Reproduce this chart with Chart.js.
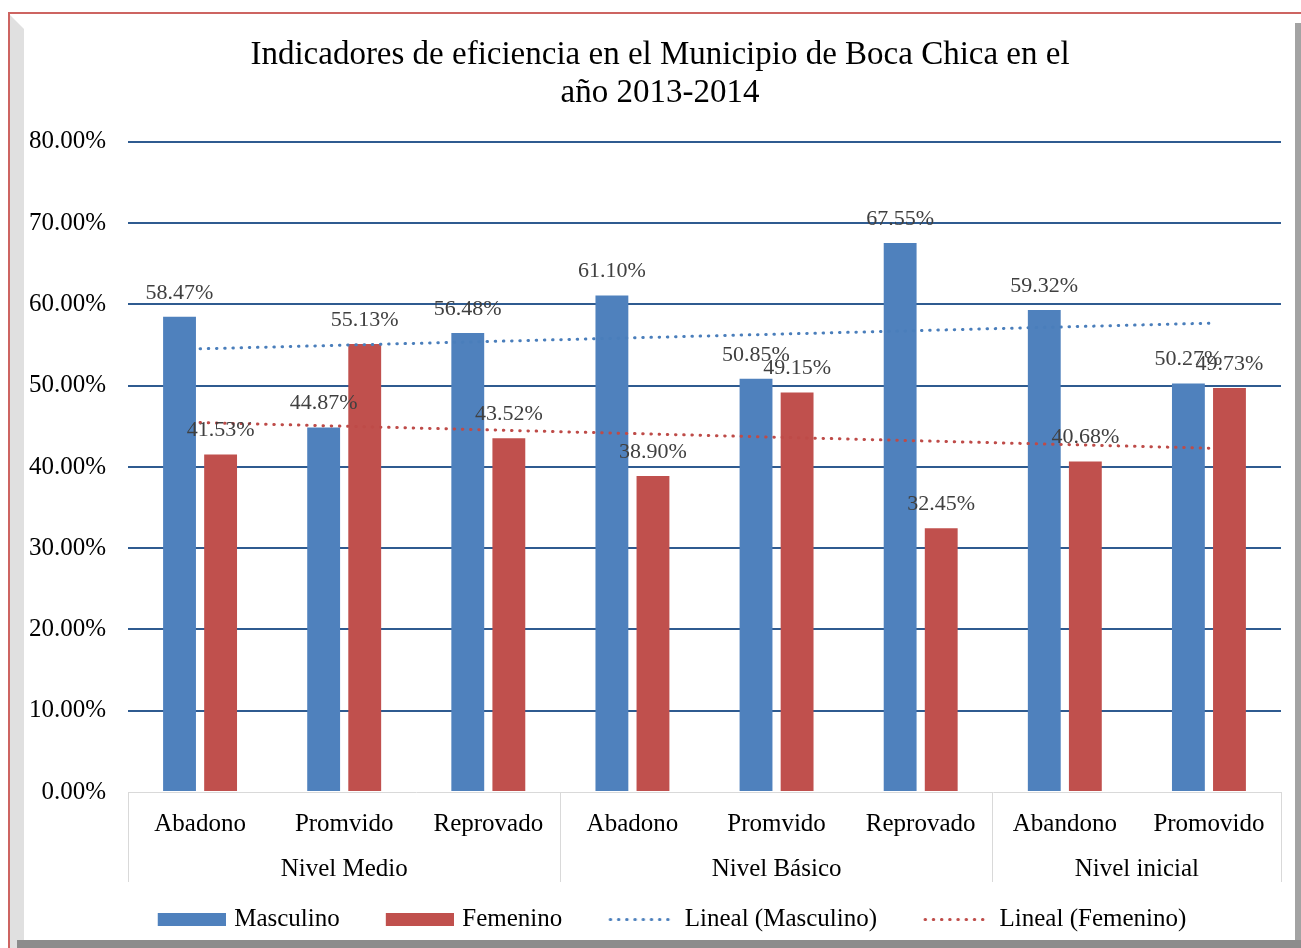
<!DOCTYPE html>
<html>
<head>
<meta charset="utf-8">
<script src="https://cdn.jsdelivr.net/npm/chart.js@4/dist/chart.umd.min.js"></script>
<style>
  body { margin: 0; width: 1301px; height: 948px; overflow: hidden; background: #fff; }
  #frame { position: absolute; left: 8px; top: 12px; right: 0; bottom: 0; border-left: 2px solid #cd6461; border-top: 2px solid #cd6461; }
  #bevelLeft { position: absolute; left: 10px; top: 15px; width: 14px; bottom: 0; background: #e0e0e0; clip-path: polygon(0 0, 100% 14px, 100% 100%, 0 100%); }
  #shadowRight { position: absolute; left: 1295px; top: 23px; right: 0; bottom: 8px; background: #a3a3a3; }
  #shadowBottom { position: absolute; left: 17px; top: 940px; right: 0; bottom: 0; background: #8c8c8c; }
  #chart { position: absolute; left: 0; top: 0; }
</style>
</head>
<body>
<div id="frame"></div>
<div id="bevelLeft"></div>
<div id="shadowRight"></div>
<div id="shadowBottom"></div>
<canvas id="chart" width="1301" height="948"></canvas>
<script>
const categories = ["Abadono", "Promvido", "Reprovado", "Abadono", "Promvido", "Reprovado", "Abandono", "Promovido"];
const groups = ["Nivel Medio", "Nivel Básico", "Nivel inicial"];
const groupSizes = [3, 3, 2];
const masculino = [58.47, 44.87, 56.48, 61.10, 50.85, 67.55, 59.32, 50.27];
const femenino = [41.53, 55.13, 43.52, 38.90, 49.15, 32.45, 40.68, 49.73];
const yTicks = [0, 10, 20, 30, 40, 50, 60, 70, 80];

const FONT = "'Liberation Serif', 'Times New Roman', serif";
const BLUE = "#4f81bd";
const RED = "#c0504d";

// linear trendline (least squares), like the Excel "Lineal" trendline
function trend(values) {
  const n = values.length;
  const mx = (n - 1) / 2;
  const my = values.reduce((a, b) => a + b, 0) / n;
  let sxy = 0, sxx = 0;
  values.forEach((v, i) => { sxy += (i - mx) * (v - my); sxx += (i - mx) * (i - mx); });
  const slope = sxy / sxx;
  return values.map((v, i) => my + slope * (i - mx));
}

// group centres and boundaries, in category index units
const groupCenters = [];
const groupEdges = [0];
let start = 0;
groupSizes.forEach(size => {
  groupCenters.push(start + (size - 1) / 2);
  start += size;
  groupEdges.push(start);
});

// legend symbols: the box is wider than the symbol, symbol sits at its right end
const LEG_BOX = 88, LEG_OVER = 4, LEG_SYM = 68;
function legendSymbol(kind, color) {
  const c = document.createElement("canvas");
  c.width = LEG_BOX + 2 * LEG_OVER;
  c.height = 13;
  const g = c.getContext("2d");
  const x0 = c.width - LEG_SYM;
  if (kind === "rect") {
    g.fillStyle = color;
    g.fillRect(x0, 0, LEG_SYM, 13);
  } else {
    g.strokeStyle = color;
    g.lineWidth = 3;
    g.lineCap = "round";
    g.setLineDash([0.5, 7.7]);
    g.beginPath();
    g.moveTo(x0 + 2, 6.5);
    g.lineTo(c.width - 1, 6.5);
    g.stroke();
  }
  return c;
}

const barLabels = {
  id: "barLabels",
  afterDatasetsDraw(chart) {
    const ctx = chart.ctx;
    ctx.save();
    ctx.font = "22px " + FONT;
    ctx.fillStyle = "#404040";
    ctx.textAlign = "center";
    ctx.textBaseline = "middle";
    chart.data.datasets.forEach((ds, di) => {
      if (ds.type !== "bar") return;
      chart.getDatasetMeta(di).data.forEach((el, i) => {
        ctx.fillText(ds.data[i].toFixed(2) + "%", el.x, el.y - 24);
      });
    });
    ctx.restore();
  }
};

new Chart(document.getElementById("chart"), {
  data: {
    labels: categories,
    datasets: [
      { type: "bar", label: "Masculino", data: masculino, backgroundColor: BLUE, order: 2 },
      { type: "bar", label: "Femenino", data: femenino, backgroundColor: RED, order: 2 },
      { type: "line", label: "Lineal (Masculino)", data: trend(masculino), borderColor: "#4a7ebb",
        borderWidth: 3, borderDash: [0.5, 7.7], borderCapStyle: "round", pointRadius: 0, fill: false, order: 1 },
      { type: "line", label: "Lineal (Femenino)", data: trend(femenino), borderColor: "#be4b48",
        borderWidth: 3, borderDash: [0.5, 7.7], borderCapStyle: "round", pointRadius: 0, fill: false, order: 1 }
    ]
  },
  options: {
    responsive: false,
    animation: false,
    layout: { padding: { left: 24, right: 5, top: 14, bottom: 6 } },
    datasets: {
      bar: { categoryPercentage: 0.57, barPercentage: 0.8 }
    },
    scales: {
      x: {
        type: "category",
        position: "bottom",
        grid: {
          drawOnChartArea: false,
          offset: true,
          tickLength: 90,
          lineWidth: 1,
          color: (c) => (c.index === undefined || groupEdges.includes(c.index)) ? "#d9d9d9" : "rgba(0,0,0,0)"
        },
        border: { color: "#d9d9d9", width: 1 },
        ticks: { font: { family: FONT, size: 25 }, color: "#000", padding: -73, autoSkip: false, maxRotation: 0 },
        afterFit: (scale) => { scale.height = 49; }
      },
      x2: {
        type: "linear",
        position: "bottom",
        min: -0.5,
        max: categories.length - 0.5,
        grid: { display: false },
        border: { display: false },
        afterBuildTicks: (scale) => { scale.ticks = groupCenters.map(v => ({ value: v })); },
        ticks: {
          font: { family: FONT, size: 25 }, color: "#000", padding: 5, autoSkip: false, maxRotation: 0,
          callback: (v) => groups[groupCenters.indexOf(v)]
        },
        afterFit: (scale) => { scale.height = 44; }
      },
      y: {
        min: 0,
        max: 80,
        afterBuildTicks: (scale) => { scale.ticks = yTicks.map(v => ({ value: v })); },
        grid: {
          drawTicks: false,
          lineWidth: 2,
          color: (c) => c.tick && c.tick.value === 0 ? "rgba(0,0,0,0)" : "#2f5b90"
        },
        border: { display: false },
        ticks: { font: { family: FONT, size: 25 }, color: "#000", padding: 22, callback: (v) => v.toFixed(2) + "%" },
        afterFit: (scale) => { scale.width = 104; }
      },
      yRight: {
        type: "linear",
        position: "right",
        grid: { display: false },
        border: { display: false },
        ticks: { display: false },
        afterFit: (scale) => { scale.width = 15; }
      }
    },
    plugins: {
      title: {
        display: true,
        text: ["Indicadores de eficiencia en el Municipio de Boca Chica en el", "año 2013-2014"],
        font: { family: FONT, size: 33, weight: "normal", lineHeight: 1.15 },
        color: "#000",
        padding: { top: 22, bottom: 30 }
      },
      legend: {
        position: "bottom",
        maxHeight: 60,
        labels: {
          font: { family: FONT, size: 25 },
          color: "#000",
          padding: 22,
          usePointStyle: true,
          pointStyleWidth: LEG_BOX,
          boxHeight: 13,
          sort: (a, b) => a.datasetIndex - b.datasetIndex,
          generateLabels: (chart) => Chart.defaults.plugins.legend.labels.generateLabels(chart).map(item => {
            const ds = chart.data.datasets[item.datasetIndex];
            const color = ds.type === "line" ? ds.borderColor : ds.backgroundColor;
            item.pointStyle = legendSymbol(ds.type === "line" ? "line" : "rect", color);
            item.lineWidth = 0;
            item.lineDash = [];
            return item;
          })
        }
      },
      tooltip: { enabled: false }
    }
  },
  plugins: [barLabels]
});
</script>
</body>
</html>
